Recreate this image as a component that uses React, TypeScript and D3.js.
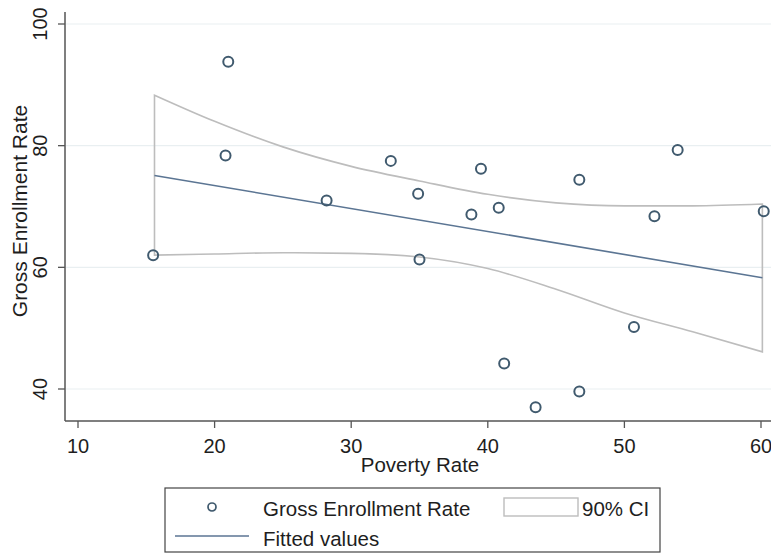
import { useEffect } from 'react';
import * as d3 from 'd3';

// observed points (poverty rate, gross enrollment rate)
const poverty = [15.5, 21.0, 20.8, 28.2, 32.9, 34.9, 35.0, 39.5, 38.8, 40.8, 46.7, 53.9, 52.2, 60.2, 50.7, 41.2, 46.7, 43.5];
const enrollment = [62.0, 93.8, 78.4, 71.0, 77.5, 72.1, 61.3, 76.2, 68.7, 69.8, 74.4, 79.3, 68.4, 69.2, 50.2, 44.2, 39.6, 37.0];

// fitted line + 90% CI band
const fitX = [15.6, 60.1];
const fitY = [75.1, 58.3];
const ciX = [15.6, 20, 25, 30, 35, 40, 45, 50, 55, 60.1];
const ciUpper = [88.3, 84.0, 79.8, 76.6, 74.2, 72.0, 70.6, 70.1, 70.1, 70.4];
const ciLower = [62.0, 62.2, 62.4, 62.3, 61.7, 59.8, 56.4, 52.5, 49.4, 46.1];

const xTicks = [10, 20, 30, 40, 50, 60];
const yTicks = [40, 60, 80, 100];

const W = 771;
const H = 554;
const FONT = '"Liberation Sans", Arial, sans-serif';

export default function App() {
  useEffect(() => {
    document.body.style.margin = '0';
  }, []);

  const x = d3.scaleLinear().domain([10, 60]).range([78, 761]);
  const y = d3.scaleLinear().domain([40, 100]).range([389, 24]);

  const axisLeft = 65;
  const axisBottom = 421;

  const band = d3.area<number>()
    .x((_, i) => x(ciX[i]))
    .y0((_, i) => y(ciLower[i]))
    .y1((_, i) => y(ciUpper[i]))
    .curve(d3.curveMonotoneX);

  const fit = d3.line<number>()
    .x((_, i) => x(fitX[i]))
    .y(d => y(d));

  const gridColor = '#e9eff1';
  const axisColor = '#555';
  const markColor = '#405a6e';
  const fitColor = '#5b7593';
  const ciColor = '#bdbdbd';
  const textColor = '#1e1e1e';

  return (
    <svg width={W} height={H} style={{ display: 'block', background: '#fff' }} fontFamily={FONT}>
      {/* gridlines */}
      {yTicks.map(t => (
        <line key={'g' + t} x1={axisLeft + 1} x2={W} y1={y(t)} y2={y(t)} stroke={gridColor} strokeWidth={1.2} />
      ))}

      {/* CI band */}
      <path d={band(ciX) || ''} fill="none" stroke={ciColor} strokeWidth={1.6} />

      {/* fitted line */}
      <path d={fit(fitY) || ''} fill="none" stroke={fitColor} strokeWidth={1.6} />

      {/* scatter */}
      {poverty.map((p, i) => (
        <circle key={i} cx={x(p)} cy={y(enrollment[i])} r={5} fill="none" stroke={markColor} strokeWidth={2} />
      ))}

      {/* axes */}
      <line x1={axisLeft} x2={axisLeft} y1={12} y2={axisBottom} stroke={axisColor} strokeWidth={1.5} />
      <line x1={axisLeft} x2={W} y1={axisBottom} y2={axisBottom} stroke={axisColor} strokeWidth={1.5} />

      {yTicks.map(t => (
        <g key={'y' + t}>
          <line x1={axisLeft - 7} x2={axisLeft} y1={y(t)} y2={y(t)} stroke={axisColor} strokeWidth={1.3} />
          <text transform={`translate(47,${y(t)}) rotate(-90)`} textAnchor="middle" fontSize={20} fill={textColor}>{t}</text>
        </g>
      ))}
      {xTicks.map(t => (
        <g key={'x' + t}>
          <line x1={x(t)} x2={x(t)} y1={axisBottom} y2={axisBottom + 7} stroke={axisColor} strokeWidth={1.3} />
          <text x={x(t)} y={453} textAnchor="middle" fontSize={20} fill={textColor}>{t}</text>
        </g>
      ))}

      <text transform={`translate(27,${211}) rotate(-90)`} textAnchor="middle" fontSize={21} fill={textColor}>Gross Enrollment Rate</text>
      <text x={420} y={472} textAnchor="middle" fontSize={20.5} fill={textColor}>Poverty Rate</text>

      {/* legend */}
      <rect x={165} y={488} width={495} height={64} fill="#fff" stroke="#444" strokeWidth={1.2} />
      <circle cx={212} cy={507} r={4} fill="none" stroke={markColor} strokeWidth={1.7} />
      <text x={263} y={516} fontSize={20.5} fill={textColor}>Gross Enrollment Rate</text>
      <rect x={504} y={498} width={74} height={18} fill="#fff" stroke={ciColor} strokeWidth={1.4} />
      <text x={582} y={516} fontSize={20.5} fill={textColor}>90% CI</text>
      <line x1={175} x2={249} y1={536} y2={536} stroke={fitColor} strokeWidth={1.6} />
      <text x={263} y={546} fontSize={20.5} fill={textColor}>Fitted values</text>
    </svg>
  );
}
